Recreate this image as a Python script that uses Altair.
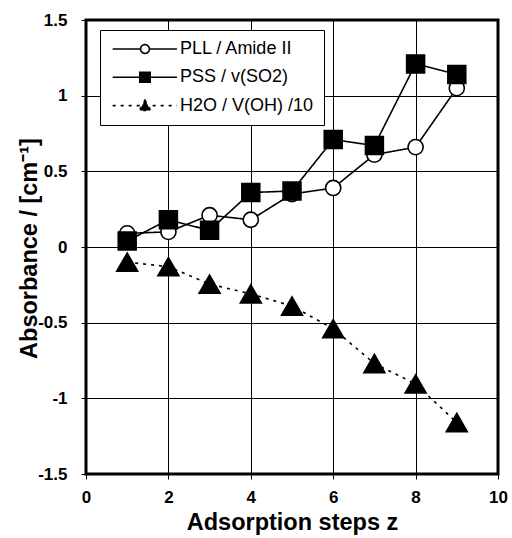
import altair as alt
import pandas as pd

# Adsorption steps and the three absorbance series
steps = [1, 2, 3, 4, 5, 6, 7, 8, 9]
pll_amide = [0.09, 0.10, 0.21, 0.18, 0.35, 0.39, 0.61, 0.66, 1.05]
pss_so2 = [0.04, 0.18, 0.11, 0.36, 0.37, 0.71, 0.67, 1.21, 1.14]
h2o_oh = [-0.10, -0.13, -0.245, -0.31, -0.39, -0.54, -0.77, -0.905, -1.16]

series_names = ["PLL / Amide II", "PSS / v(SO2)", "H2O / V(OH) /10"]
x_ticks = [0, 2, 4, 6, 8, 10]
y_ticks = [-1.5, -1.0, -0.5, 0.0, 0.5, 1.0, 1.5]

rows = []
for name, vals in zip(series_names, [pll_amide, pss_so2, h2o_oh]):
    for s, v in zip(steps, vals):
        rows.append({"step": s, "value": v, "series": name})
df = pd.DataFrame(rows)

FONT = "Liberation Sans"

# legend glyphs: a line segment with the marker in its middle (units of 8 px)
LEG_PLL = ("M-0.79,0H2.7M3.8,0H7.25"
           "M3.8,0A0.55,0.55 0 1,1 2.7,0A0.55,0.55 0 1,1 3.8,0Z")
LEG_PSS = "M-0.79,0H7.25M2.6,-0.62H3.9V0.62H2.6Z"
LEG_H2O = "M-0.79,0H7.25M3.25,-0.68L3.95,0.6H2.55Z"

shape_expr = (f"datum.value === '{series_names[0]}' ? '{LEG_PLL}' : "
              f"(datum.value === '{series_names[1]}' ? '{LEG_PSS}' : '{LEG_H2O}')")
fill_expr = f"datum.value === '{series_names[0]}' ? 'white' : 'black'"

x_enc = alt.X(
    "step:Q",
    scale=alt.Scale(domain=[0, 10], nice=False),
    axis=alt.Axis(
        values=x_ticks,
        title="Adsorption steps z",
        titleX=206,
        titleY=55,
        titleBaseline="alphabetic",
        labelPadding=10,
        labelFlush=False,
    ),
)
y_enc = alt.Y(
    "value:Q",
    scale=alt.Scale(domain=[-1.5, 1.5], nice=False),
    axis=alt.Axis(
        values=y_ticks,
        labelExpr="toString(datum.value)",
        title="Absorbance / [cm⁻¹]",
        titleAngle=270,
        titleX=-50,
        titleY=228,
        titleAlign="center",
        titleBaseline="alphabetic",
        labelPadding=14,
        labelFlush=False,
    ),
)

lines = alt.Chart(df).mark_line(color="black").encode(
    x=x_enc,
    y=y_enc,
    strokeDash=alt.StrokeDash(
        "series:N",
        scale=alt.Scale(domain=series_names, range=[[1, 0], [1, 0], [3, 5]]),
        legend=alt.Legend(
            title=None,
            orient="none",
            legendX=14,
            legendY=10,
            padding=10,
            rowPadding=10.3,
            labelOffset=52,
            symbolSize=256,
            symbolType=alt.ExprRef(expr=shape_expr),
            symbolFillColor=alt.ExprRef(expr=fill_expr),
            symbolStrokeWidth=1.8,
            symbolStrokeColor="black",
            strokeColor="black",
            fillColor="white",
            labelFont=FONT,
            labelFontSize=18,
            labelColor="black",
        ),
    ),
    strokeWidth=alt.StrokeWidth(
        "series:N",
        scale=alt.Scale(domain=series_names, range=[1.6, 1.6, 2.6]),
        legend=None,
    ),
)


def markers(name, shape, fill, size):
    return (
        alt.Chart(df)
        .transform_filter(alt.datum.series == name)
        .mark_point(
            shape=shape, size=size, filled=True, fill=fill,
            stroke="black", strokeWidth=1.6, opacity=1,
        )
        .encode(x="step:Q", y="value:Q")
    )


pll_pts = markers(series_names[0], "circle", "white", 230)
pss_pts = markers(series_names[1], "square", "black", 320)
h2o_pts = markers(series_names[2], "triangle-up", "black", 440)

chart = (
    alt.layer(lines, pll_pts, pss_pts, h2o_pts)
    .properties(
        width=412,
        height=454,
        autosize=alt.AutoSizeParams(type="none"),
        padding={"left": 86, "top": 20, "right": 14, "bottom": 64},
        background="white",
    )
    .configure_view(stroke="black", strokeWidth=3)
    .configure_axis(
        domain=False,
        grid=True,
        gridColor="black",
        gridWidth=1,
        gridOpacity=1,
        ticks=True,
        tickColor="black",
        tickSize=5,
        tickWidth=1,
        labelFont=FONT,
        labelFontSize=17,
        labelFontWeight="bold",
        labelColor="black",
        titleFont=FONT,
        titleFontSize=23.5,
        titleFontWeight="bold",
        titleColor="black",
    )
)

chart.save("out.html", embed_options={"renderer": "svg", "actions": False})
